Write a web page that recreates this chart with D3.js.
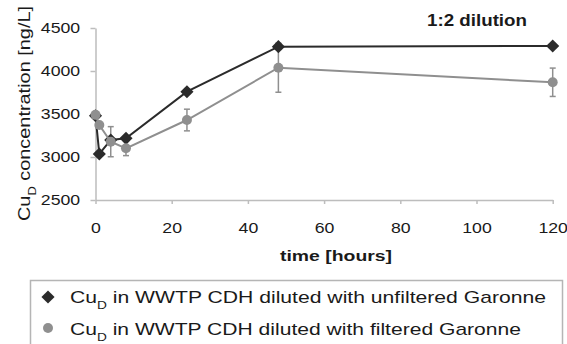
<!DOCTYPE html>
<html>
<meta charset="UTF-8">

<head>
  <script src="https://cdn.jsdelivr.net/npm/d3@7/dist/d3.min.js"></script>
  <style>
    body { margin: 0; background: #fff; }
    text { font-family: Arial, "Liberation Sans", sans-serif; }
  </style>
</head>

<body>
  <div id="viz">
    <svg style="width:567px;height:344px;"></svg>
  </div>

  <script type="text/javascript">
    // sampling times in hours
    const times = [0, 1, 4, 8, 24, 48, 120]
    // Cu_D, WWTP CDH diluted with unfiltered Garonne
    const unfiltered = [3480, 3035, 3198, 3217, 3759, 4283, 4291]
    // Cu_D, WWTP CDH diluted with filtered Garonne
    const filtered = [3490, 3372, 3178, 3101, 3430, 4038, 3869]
    const filteredErr = [0, 0, 175, 85, 126, 285, 165]
    const xTicks = [0, 20, 40, 60, 80, 100, 120]
    const yTicks = [2500, 3000, 3500, 4000, 4500]

    const svg = d3.select("svg")

    const x = d3.scaleLinear().domain([0, 120]).range([95.5, 552.7])
    const y = d3.scaleLinear().domain([2500, 4500]).range([200, 28])

    // axes
    svg.append("g")
      .attr("transform", `translate(0,${y(2500)})`)
      .call(d3.axisBottom(x).tickValues(xTicks).tickSizeInner(4).tickSizeOuter(0).tickPadding(18))
    svg.append("g")
      .attr("transform", `translate(${x(0)},0)`)
      .call(d3.axisLeft(y).tickValues(yTicks).tickFormat(d3.format("d")).tickSizeInner(5).tickSizeOuter(0).tickPadding(8))

    svg.selectAll(".domain, .tick line").style("stroke", "#bdbdbd").style("stroke-width", "1.5px")
    svg.selectAll(".tick text")
      .style("font-size", "15px")
      .style("fill", "#1a1a1a")
      .attr("transform", "scale(1.18,1)")

    // error bars (filtered series)
    const errG = svg.append("g").style("stroke", "#8f8f8f").style("stroke-width", "1.5px")
    const errData = times.map((t, i) => ({ t, v: filtered[i], e: filteredErr[i] })).filter(d => d.e > 0)
    errG.selectAll("line.bar").data(errData).enter().append("line")
      .attr("x1", d => x(d.t)).attr("x2", d => x(d.t))
      .attr("y1", d => y(d.v - d.e)).attr("y2", d => y(d.v + d.e))
    errG.selectAll("line.capLo").data(errData).enter().append("line")
      .attr("x1", d => x(d.t) - 3).attr("x2", d => x(d.t) + 3)
      .attr("y1", d => y(d.v - d.e)).attr("y2", d => y(d.v - d.e))
    errG.selectAll("line.capHi").data(errData).enter().append("line")
      .attr("x1", d => x(d.t) - 3).attr("x2", d => x(d.t) + 3)
      .attr("y1", d => y(d.v + d.e)).attr("y2", d => y(d.v + d.e))

    const line = d3.line().x(d => x(d[0])).y(d => y(d[1]))

    // unfiltered series (dark, diamonds)
    svg.append("path")
      .datum(times.map((t, i) => [t, unfiltered[i]]))
      .attr("d", line)
      .style("fill", "none").style("stroke", "#2b2b2b").style("stroke-width", "2px")
    svg.selectAll("path.dia").data(times.map((t, i) => [t, unfiltered[i]])).enter()
      .append("path")
      .attr("transform", d => `translate(${x(d[0])},${y(d[1])})`)
      .attr("d", d3.symbol(d3.symbolDiamond2, 110))
      .style("fill", "#2b2b2b")

    // filtered series (grey, circles)
    svg.append("path")
      .datum(times.map((t, i) => [t, filtered[i]]))
      .attr("d", line)
      .style("fill", "none").style("stroke", "#8f8f8f").style("stroke-width", "2px")
    svg.selectAll("circle.pt").data(times.map((t, i) => [t, filtered[i]])).enter()
      .append("circle")
      .attr("cx", d => x(d[0])).attr("cy", d => y(d[1])).attr("r", 5)
      .style("fill", "#8f8f8f")

    // titles
    svg.append("text")
      .attr("x", 427).attr("y", 26)
      .attr("textLength", 100).attr("lengthAdjust", "spacingAndGlyphs")
      .style("font-size", "17px").style("font-weight", "bold").style("fill", "#1a1a1a")
      .text("1:2 dilution")

    svg.append("text")
      .attr("x", 280).attr("y", 261)
      .attr("textLength", 112).attr("lengthAdjust", "spacingAndGlyphs")
      .style("font-size", "15px").style("font-weight", "bold").style("fill", "#1a1a1a")
      .text("time [hours]")

    const yl = svg.append("text")
      .attr("transform", "translate(30,221) rotate(-90)")
      .attr("textLength", 215).attr("lengthAdjust", "spacingAndGlyphs")
      .style("font-size", "17px").style("fill", "#1a1a1a")
    yl.append("tspan").text("Cu")
    yl.append("tspan").attr("baseline-shift", "sub").style("font-size", "11px").text("D")
    yl.append("tspan").text(" concentration [ng/L]")

    // legend
    svg.append("rect")
      .attr("x", 30.5).attr("y", 280.5).attr("width", 532).attr("height", 80)
      .style("fill", "none").style("stroke", "#b5b5b5").style("stroke-width", "1.5px")

    svg.append("path")
      .attr("transform", "translate(48,297)")
      .attr("d", d3.symbol(d3.symbolDiamond2, 110))
      .style("fill", "#2b2b2b")
    svg.append("circle").attr("cx", 48).attr("cy", 328).attr("r", 5).style("fill", "#8f8f8f")

    const legendLabels = [
      { rest: " in WWTP CDH diluted with unfiltered Garonne", yPos: 303, len: 476 },
      { rest: " in WWTP CDH diluted with filtered Garonne", yPos: 335, len: 451 }
    ]
    legendLabels.forEach(l => {
      const t = svg.append("text")
        .attr("x", 70).attr("y", l.yPos)
        .attr("textLength", l.len).attr("lengthAdjust", "spacingAndGlyphs")
        .style("font-size", "17px").style("fill", "#1a1a1a")
      t.append("tspan").text("Cu")
      t.append("tspan").attr("baseline-shift", "sub").style("font-size", "11px").text("D")
      t.append("tspan").text(l.rest)
    })
  </script>
</body>

</html>
